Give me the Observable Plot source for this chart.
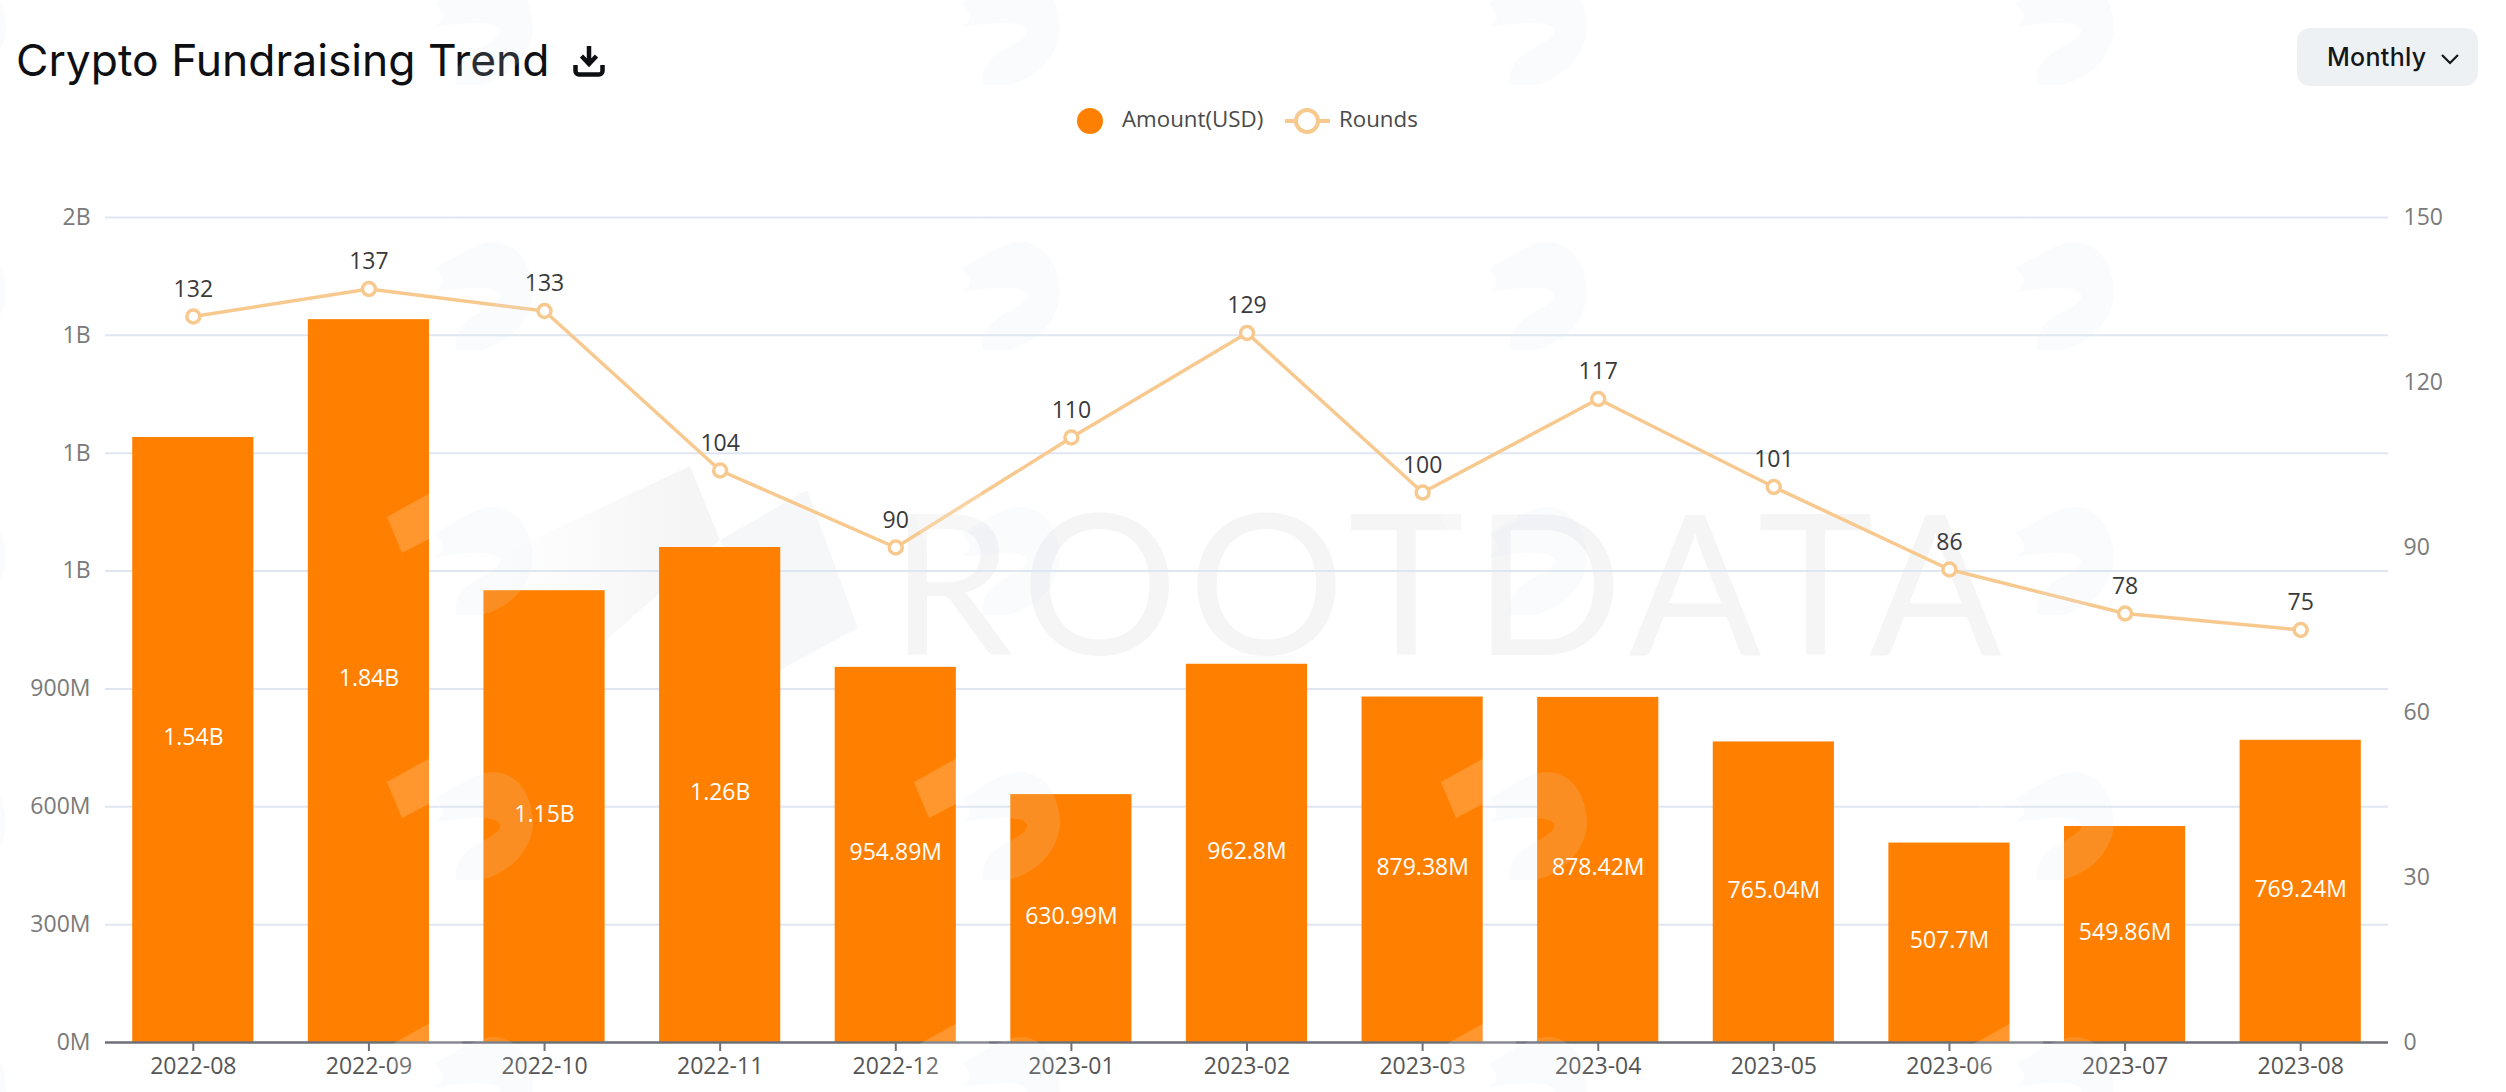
<!DOCTYPE html>
<html>
<head>
<meta charset="utf-8">
<script src="https://cdn.jsdelivr.net/npm/d3@7"></script>
<script src="https://cdn.jsdelivr.net/npm/@observablehq/plot@0.6"></script>
<style>
  html, body { margin: 0; padding: 0; background: #fff; width: 2506px; height: 1092px; overflow: hidden; }
  #page { position: relative; width: 2506px; height: 1092px; }
  #header { position: relative; height: 160px; z-index: 2; }
  #title { position: absolute; left: 16px; top: 34px; margin: 0; font: 400 44.4px/52px Inter, sans-serif; color: #0d0f12; white-space: nowrap; }
  #dl { position: absolute; left: 573px; top: 45px; }
  #btn { position: absolute; left: 2297px; top: 28px; width: 181px; height: 58px; background: #eef1f4; border-radius: 13px; }
  #btn span { position: absolute; left: 30px; top: 13px; font: 500 25px/32px Inter, sans-serif; letter-spacing: 0.3px; color: #14171a; }
  #btn svg { position: absolute; left: 143px; top: 25px; }
  .lg { position: absolute; font: 400 22.3px/30px "Open Sans", sans-serif; color: #4a4a4a; top: 104px; white-space: nowrap; }
  #chart { position: relative; z-index: 1; }
  #chart svg { background: transparent; display: block; }
  .wm { position: absolute; left: 0; top: 0; pointer-events: none; }
</style>
</head>
<body>
<div id="page">
  <svg class="wm" id="back" width="2506" height="1092" style="z-index:0">
    <defs>
      <linearGradient id="fade" x1="0" x2="1" y1="0" y2="0">
        <stop offset="0" stop-color="#f5f5f6" stop-opacity="0"/>
        <stop offset="0.85" stop-color="#f5f5f6" stop-opacity="1"/>
      </linearGradient>
    </defs>
    <polygon points="500,555 690,466 720,540 603,643 520,680" fill="url(#fade)"/>
    <polygon points="720,540 807,490 858,628 780,670" fill="#f6f7f8"/>
    <text x="890" y="655" font-family="Lato, Inter, sans-serif" font-weight="400" font-size="196" fill="#f5f5f6" textLength="1112" lengthAdjust="spacing">ROOTDATA</text>
  </svg>

  <div id="header">
    <h1 id="title">Crypto Fundraising Trend</h1>
    <svg id="dl" width="32" height="32" viewBox="0 0 32 32">
      <path d="M16 1v17M8.500 11l7.500 8 7.500-8" fill="none" stroke="#0d0f12" stroke-width="4.5"/>
      <path d="M2.500 20v6a3.500 3.500 0 0 0 3.500 3.500h20a3.500 3.500 0 0 0 3.500-3.500v-6" fill="none" stroke="#0d0f12" stroke-width="4.5"/>
    </svg>
    <div id="btn"><span>Monthly</span>
      <svg width="20" height="12" viewBox="0 0 20 12"><path d="M2 2l8 8 8-8" fill="none" stroke="#14171a" stroke-width="2.2"/></svg>
    </div>
    <svg class="wm" width="1400" height="160" style="left:1060px;top:90px">
      <circle cx="30" cy="31" r="13" fill="#ff8000"/>
      <path d="M225 31h45" stroke="#f7c98f" stroke-width="4"/>
      <circle cx="247" cy="31" r="11" fill="#fff" stroke="#f7c98f" stroke-width="4"/>
    </svg>
    <span class="lg" style="left:1122px">Amount(USD)</span>
    <span class="lg" style="left:1339px">Rounds</span>
  </div>

  <div id="chart"></div>

  <svg class="wm" width="2506" height="1092" style="z-index:3">
    <defs>
      <pattern id="tile" patternUnits="userSpaceOnUse" x="380" y="210" width="527" height="265">
        <path d="M55 58C80 45 95 32 115 32C145 35 153 65 153 85C150 115 125 135 100 140L76 140C74 120 85 110 105 100C120 92 125 85 115 80C95 75 75 80 55 82C70 72 60 66 55 58Z" fill="#dbe6f5" opacity="0.14"/>
        <polygon points="7,42 70,7 85,45 22,78" fill="#fff" opacity="0.18"/>
      </pattern>
    </defs>
    <rect width="2506" height="1092" fill="url(#tile)"/>
  </svg>
</div>
<script>
const months = ["2022-08","2022-09","2022-10","2022-11","2022-12","2023-01","2023-02","2023-03","2023-04","2023-05","2023-06","2023-07","2023-08"];
const amounts = [1.54e9,1.84e9,1.15e9,1.26e9,954.89e6,630.99e6,962.8e6,879.38e6,878.42e6,765.04e6,507.7e6,549.86e6,769.24e6];
const amountLabels = ["1.54B","1.84B","1.15B","1.26B","954.89M","630.99M","962.8M","879.38M","878.42M","765.04M","507.7M","549.86M","769.24M"];
const rounds = [132,137,133,104,90,110,129,100,117,101,86,78,75];
const leftTicks = [0,300e6,600e6,900e6,1.2e9,1.5e9,1.8e9,2.1e9];
const leftTickLabels = ["0M","300M","600M","900M","1B","1B","1B","2B"];
const rightTicks = [0,30,60,90,120,150];

const amountMax = 2.1e9, roundsMax = 150;
const toAmount = r => r / roundsMax * amountMax;
const rows = months.map((month, i) => ({month, amount: amounts[i], label: amountLabels[i], rounds: rounds[i]}));

const lineColor = "#f7c98f", barColor = "#ff8000", axisColor = "#6e7079", gridColor = "#e0e6f1";
const chart = Plot.plot({
  width: 2506,
  height: 932,
  marginTop: 57,
  marginBottom: 50,
  marginLeft: 105,
  marginRight: 118,
  style: {fontFamily: "'Open Sans', sans-serif", background: "transparent"},
  x: {type: "band", domain: months, paddingInner: 0.31, paddingOuter: 0.155, round: false, label: null},
  y: {domain: [0, amountMax], label: null},
  marks: [
    Plot.gridY(leftTicks.slice(1), {stroke: gridColor, strokeWidth: 2, strokeOpacity: 1}),
    Plot.barY(rows, {x: "month", y: "amount", fill: barColor}),
    Plot.ruleY([0], {stroke: axisColor, strokeWidth: 2.5}),
    Plot.axisX({tickSize: 9, tickPadding: 6, fontSize: 23, stroke: axisColor, fill: "#555", label: null, strokeWidth: 2}),
    Plot.axisY(leftTicks, {tickSize: 0, tickPadding: 15, fontSize: 23, fill: "#7a7a7a", label: null,
      tickFormat: d => leftTickLabels[leftTicks.indexOf(d)]}),
    Plot.axisY(rightTicks.map(toAmount), {anchor: "right", tickSize: 0, tickPadding: 15, fontSize: 23, fill: "#7a7a7a", label: null,
      tickFormat: d => String(Math.round(d / amountMax * roundsMax))}),
    Plot.text(rows, {x: "month", y: d => d.amount / 2, text: "label", fill: "#fff", fontSize: 23, dy: -2}),
    Plot.line(rows, {x: "month", y: d => toAmount(d.rounds), stroke: lineColor, strokeWidth: 3.5}),
    Plot.dot(rows, {x: "month", y: d => toAmount(d.rounds), r: 6.5, fill: "#fff", stroke: lineColor, strokeWidth: 3.5}),
    Plot.text(rows, {x: "month", y: d => toAmount(d.rounds), text: d => String(d.rounds), fill: "#3a3a3a", fontSize: 23, dy: -27})
  ]
});
document.getElementById("chart").appendChild(chart);
</script>
</body>
</html>
